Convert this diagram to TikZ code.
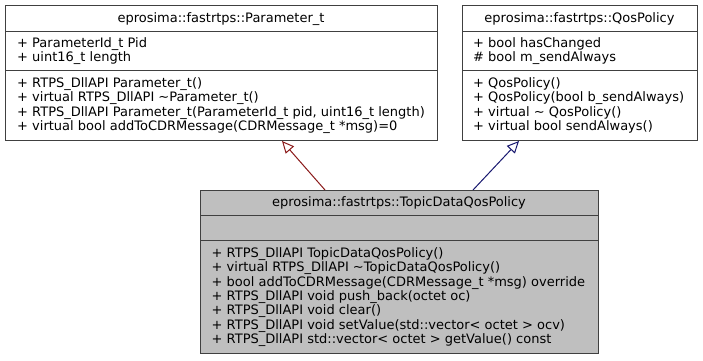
\documentclass[tikz,border=0pt]{standalone}
\usepackage{fontspec}
\setmainfont{DejaVu Sans}
\usetikzlibrary{arrows.meta}
\newcommand\umlfont{\fontsize{13}{14.4}\selectfont}
\definecolor{edgered}{HTML}{8B1A1A}
\definecolor{edgeblue}{HTML}{191970}
\definecolor{boxgrey}{HTML}{BFBFBF}
\tikzset{
  classbox/.style={draw=black!75, line width=1pt, fill=white, rectangle,
    anchor=north west, inner sep=0pt},
  current/.style={classbox, fill=boxgrey},
  divider/.style={draw=black!75, line width=1pt},
  member/.style={anchor=base west, inner sep=0pt, font=\umlfont},
  title/.style={anchor=base, inner sep=0pt, font=\umlfont},
  inherit/.style={line width=1pt, -{Triangle[open, length=12pt, width=11pt]}},
}
\begin{document}
\begin{tikzpicture}[x=1pt, y=-1pt]
\useasboundingbox[fill=white] (0,0) rectangle (703,360);

% ---- eprosima::fastrtps::Parameter_t ----
\node[classbox, minimum width=432pt, minimum height=135pt] (param) at (5,5) {};
\draw[divider] ([yshift=-26pt]param.north west) -- ([yshift=-26pt]param.north east);
\draw[divider] ([yshift=-65pt]param.north west) -- ([yshift=-65pt]param.north east);
\node[title] (param-title) at (221,22.6) {eprosima::fastrtps::Parameter\_t};
\foreach \t [count=\i from 0] in {
  {+ ParameterId\_t Pid},
  {+ uint16\_t length}}
  \node[member] (param-a\i) at (17,{47.3+14.4*\i}) {\t};
\foreach \t [count=\i from 0] in {
  {+ RTPS\_DllAPI Parameter\_t()},
  {+ virtual RTPS\_DllAPI \textasciitilde Parameter\_t()},
  {+ RTPS\_DllAPI Parameter\_t(ParameterId\_t pid, uint16\_t length)},
  {+ virtual bool addToCDRMessage(CDRMessage\_t *msg)=0}}
  \node[member] (param-m\i) at (17,{87.2+14.4*\i}) {\t};

% ---- eprosima::fastrtps::QosPolicy ----
\node[classbox, minimum width=235pt, minimum height=135pt] (qos) at (462,5) {};
\draw[divider] ([yshift=-26pt]qos.north west) -- ([yshift=-26pt]qos.north east);
\draw[divider] ([yshift=-65pt]qos.north west) -- ([yshift=-65pt]qos.north east);
\node[title] (qos-title) at (579.5,22.6) {eprosima::fastrtps::QosPolicy};
\foreach \t [count=\i from 0] in {
  {+ bool hasChanged},
  {\# bool m\_sendAlways}}
  \node[member] (qos-a\i) at (473,{47.3+14.4*\i}) {\t};
\foreach \t [count=\i from 0] in {
  {+ QosPolicy()},
  {+ QosPolicy(bool b\_sendAlways)},
  {+ virtual \textasciitilde{} QosPolicy()},
  {+ virtual bool sendAlways()}}
  \node[member] (qos-m\i) at (473,{87.2+14.4*\i}) {\t};

% ---- eprosima::fastrtps::TopicDataQosPolicy ----
\node[current, minimum width=398pt, minimum height=163pt] (topic) at (200,190) {};
\draw[divider] ([yshift=-25pt]topic.north west) -- ([yshift=-25pt]topic.north east);
\draw[divider] ([yshift=-50.5pt]topic.north west) -- ([yshift=-50.5pt]topic.north east);
\node[title] (topic-title) at (399,206.4) {eprosima::fastrtps::TopicDataQosPolicy};
\foreach \t [count=\i from 0] in {
  {+ RTPS\_DllAPI TopicDataQosPolicy()},
  {+ virtual RTPS\_DllAPI \textasciitilde TopicDataQosPolicy()},
  {+ bool addToCDRMessage(CDRMessage\_t *msg) override},
  {+ RTPS\_DllAPI void push\_back(octet oc)},
  {+ RTPS\_DllAPI void clear()},
  {+ RTPS\_DllAPI void setValue(std::vector< octet > ocv)},
  {+ RTPS\_DllAPI std::vector< octet > getValue() const}}
  \node[member] (topic-m\i) at (211.5,{257.2+14.4*\i}) {\t};

% ---- inheritance connectors ----
\path ([xshift=125pt]topic.north west) coordinate (topic-out-l)
      ([xshift=273pt]topic.north west) coordinate (topic-out-r)
      ([xshift=277pt]param.south west) coordinate (param-in)
      ([xshift=57pt]qos.south west) coordinate (qos-in);
\draw[inherit, draw=edgered] (topic-out-l) -- (param-in);
\draw[inherit, draw=edgeblue] (topic-out-r) -- (qos-in);
\end{tikzpicture}
\end{document}
